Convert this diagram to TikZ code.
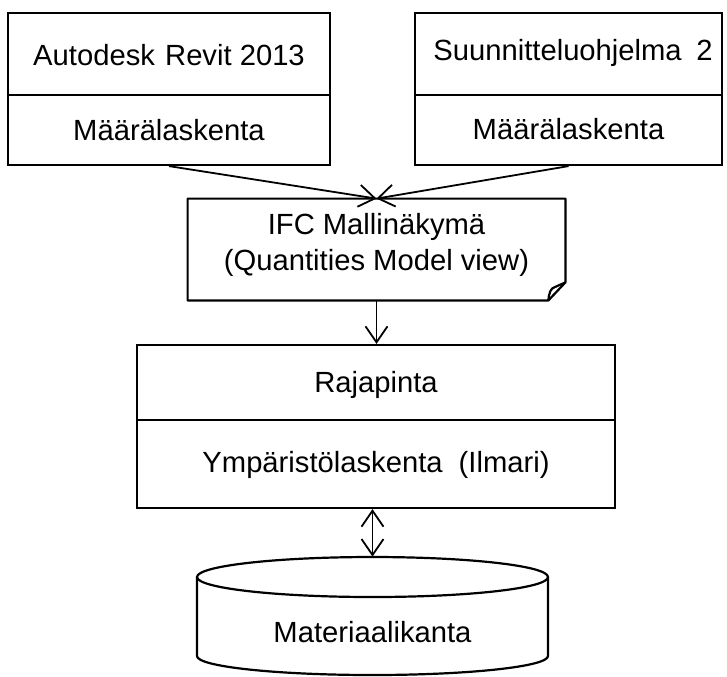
\documentclass[tikz,border=0pt]{standalone}
\usepackage{fontspec}
\setmainfont{Liberation Sans}
\usetikzlibrary{arrows.meta}
\begin{document}
\begin{tikzpicture}[x=0.5pt,y=-0.5pt,
  every node/.style={font=\fontsize{14.6pt}{17.5pt}\selectfont, inner sep=0pt},
  boxshape/.style={draw=black, line width=1.1pt, rectangle},
  ghost/.style={rectangle, inner sep=0pt},
  lbl/.style={align=center},
  conn/.style={line width=0.9pt, -{Straight Barb[length=8pt,width=11pt,line width=0.9pt]}},
  dconn/.style={line width=0.9pt, {Straight Barb[length=8pt,width=11pt,line width=0.9pt]}-{Straight Barb[length=8pt,width=11pt,line width=0.9pt]}},
  outline/.style={draw=black, line width=1.1pt}
]
\useasboundingbox (0,0) rectangle (727,676);

% Box 1
\node[boxshape, minimum width=161pt, minimum height=76pt] (b1) at (169,89) {};
\draw[outline] (b1.west |- 0,95) coordinate (b1l) -- (b1.east |- 0,95) coordinate (b1r);
\node[lbl] (b1t) at (169,55) {Autodesk\hspace{0.35em}Revit 2013};
\node[lbl] (b1b) at (169,130) {Määrälaskenta};

% Box 2
\node[boxshape, minimum width=153.5pt, minimum height=76pt] (b2) at (568.5,89) {};
\draw[outline] (b2.west |- 0,95) coordinate (b2l) -- (b2.east |- 0,95) coordinate (b2r);
\node[lbl] (b2t) at (573,53) {Suunnitteluohjelma\hspace{0.5em}2};
\node[lbl] (b2b) at (568.5,129) {Määrälaskenta};

% IFC document node
\node[ghost, minimum width=188.5pt, minimum height=50.5pt] (ifc) at (376.5,249.5) {};
\draw[outline, line join=round] (ifc.north west) -- (ifc.north east) -- ([yshift=9pt]ifc.south east)
  -- ([xshift=-8.5pt]ifc.south east) -- (ifc.south west) -- cycle;
\draw[outline, line join=round] ([xshift=-8.5pt]ifc.south east) .. controls (549,292) and (551,288) .. (555,287)
  -- ([yshift=9pt]ifc.south east);
\node[lbl] (ifct) at (376.5,227) {IFC Mallinäkymä};
\node[lbl] (ifcb) at (376.5,263) {(Quantities Model view)};

% Rajapinta box
\node[boxshape, minimum width=239pt, minimum height=81.5pt] (raj) at (376,426.5) {};
\draw[outline] (raj.west |- 0,420) coordinate (rajl) -- (raj.east |- 0,420) coordinate (rajr);
\node[lbl] (rajt) at (376,385) {Rajapinta};
\node[lbl] (rajb) at (376,465) {Ympäristölaskenta\hspace{0.55em}(Ilmari)};

% Database cylinder
\node[ghost, minimum width=175.5pt, minimum height=59.5pt] (db) at (372.5,616.5) {};
\draw[outline] (372.5,577) ellipse [x radius=87.75pt, y radius=10pt];
\draw[outline] (197,577) -- (197,656) arc[start angle=180, end angle=360, x radius=87.75pt, y radius=9.5pt] -- (548,577);
\node[lbl] (dbt) at (372.5,632) {Materiaalikanta};

% Connectors
\draw[conn] (b1.south) -- (ifc.north);
\draw[conn] (b2.south) -- (ifc.north);
\draw[conn] (ifc.south) -- (ifc.south |- raj.north);
\draw[dconn] (db.north |- raj.south) -- (db.north);
\end{tikzpicture}
\end{document}
